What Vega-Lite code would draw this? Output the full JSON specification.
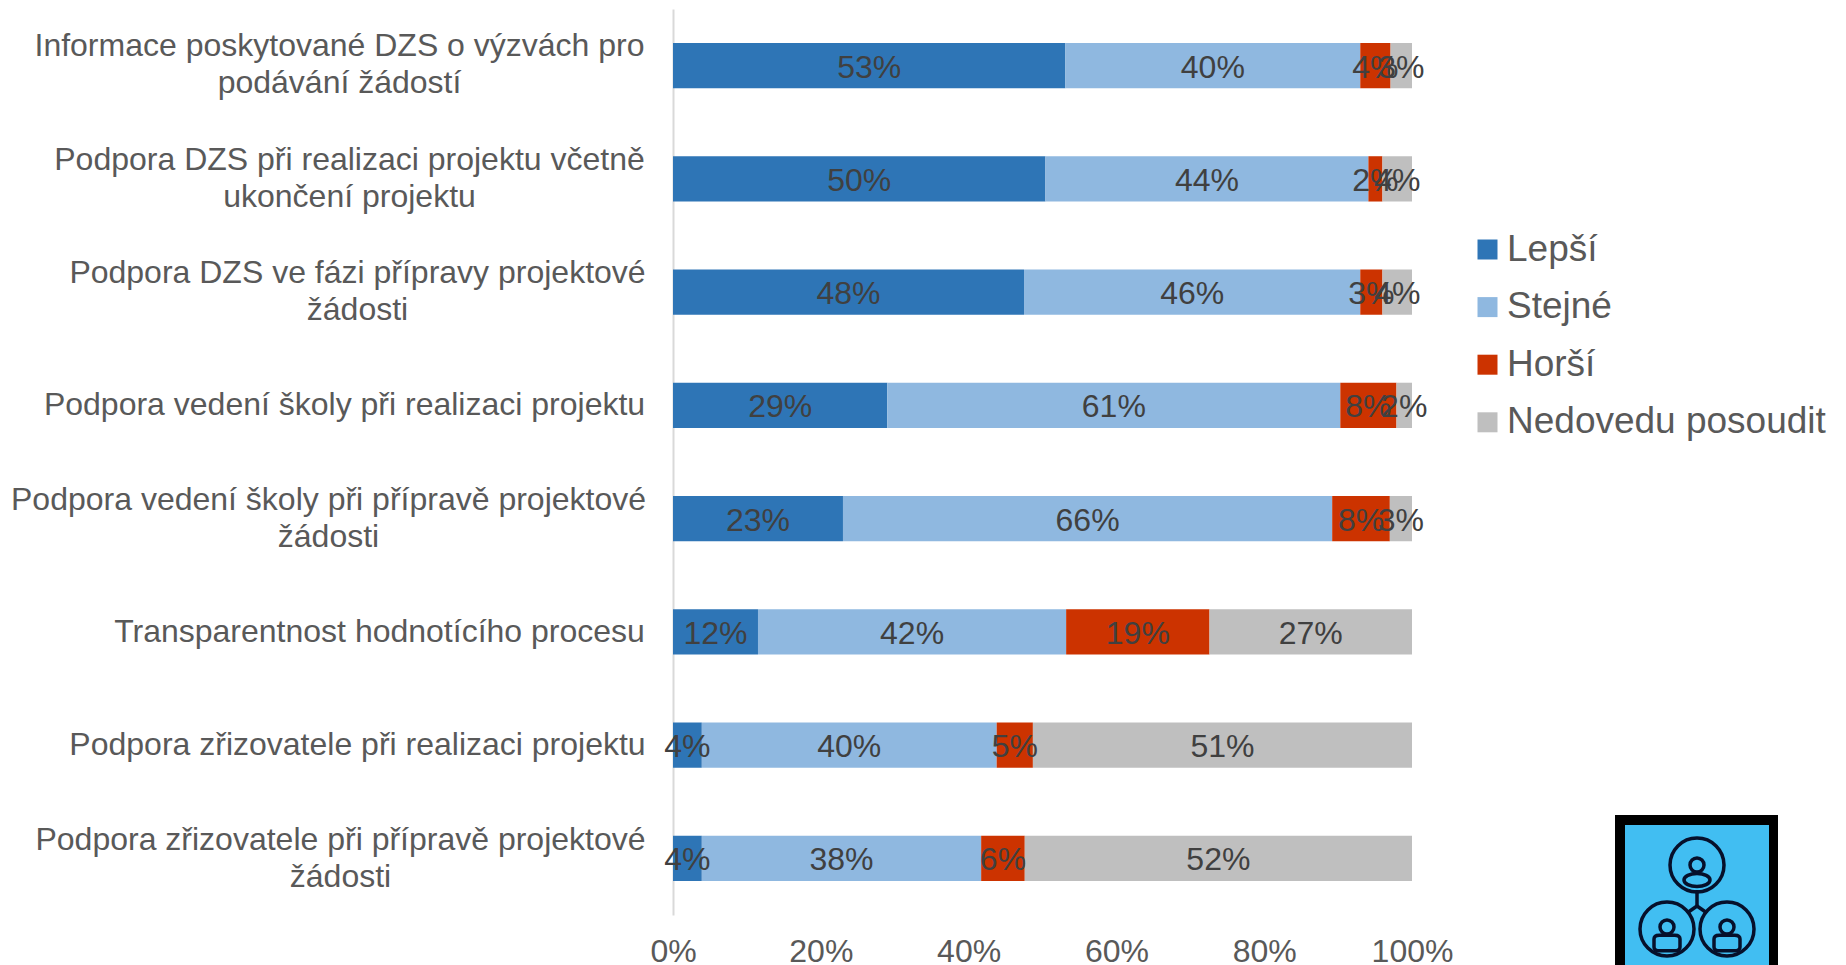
{"$schema":"https://vega.github.io/schema/vega-lite/v6.json","width":739,"height":906,"padding":{"left":673,"top":9,"right":434,"bottom":50},"autosize":{"type":"none"},"background":"white","config":{"view":{"stroke":null}},
"datasets":{"d":[
{"q":"Informace poskytované DZS o výzvách pro\npodávání žádostí","s":"Lepší","v":53.1},{"q":"Informace poskytované DZS o výzvách pro\npodávání žádostí","s":"Stejné","v":39.9},{"q":"Informace poskytované DZS o výzvách pro\npodávání žádostí","s":"Horší","v":4.1},{"q":"Informace poskytované DZS o výzvách pro\npodávání žádostí","s":"Nedovedu posoudit","v":2.9},
{"q":"Podpora DZS při realizaci projektu včetně\nukončení projektu","s":"Lepší","v":50.4},{"q":"Podpora DZS při realizaci projektu včetně\nukončení projektu","s":"Stejné","v":43.7},{"q":"Podpora DZS při realizaci projektu včetně\nukončení projektu","s":"Horší","v":1.9},{"q":"Podpora DZS při realizaci projektu včetně\nukončení projektu","s":"Nedovedu posoudit","v":4},
{"q":"Podpora DZS ve fázi přípravy projektové\nžádosti","s":"Lepší","v":47.5},{"q":"Podpora DZS ve fázi přípravy projektové\nžádosti","s":"Stejné","v":45.5},{"q":"Podpora DZS ve fázi přípravy projektové\nžádosti","s":"Horší","v":3},{"q":"Podpora DZS ve fázi přípravy projektové\nžádosti","s":"Nedovedu posoudit","v":4},
{"q":"Podpora vedení školy při realizaci projektu","s":"Lepší","v":29},{"q":"Podpora vedení školy při realizaci projektu","s":"Stejné","v":61.3},{"q":"Podpora vedení školy při realizaci projektu","s":"Horší","v":7.6},{"q":"Podpora vedení školy při realizaci projektu","s":"Nedovedu posoudit","v":2.1},
{"q":"Podpora vedení školy při přípravě projektové\nžádosti","s":"Lepší","v":23},{"q":"Podpora vedení školy při přípravě projektové\nžádosti","s":"Stejné","v":66.2},{"q":"Podpora vedení školy při přípravě projektové\nžádosti","s":"Horší","v":7.8},{"q":"Podpora vedení školy při přípravě projektové\nžádosti","s":"Nedovedu posoudit","v":3},
{"q":"Transparentnost hodnotícího procesu","s":"Lepší","v":11.5},{"q":"Transparentnost hodnotícího procesu","s":"Stejné","v":41.7},{"q":"Transparentnost hodnotícího procesu","s":"Horší","v":19.4},{"q":"Transparentnost hodnotícího procesu","s":"Nedovedu posoudit","v":27.4},
{"q":"Podpora zřizovatele při realizaci projektu","s":"Lepší","v":3.9},{"q":"Podpora zřizovatele při realizaci projektu","s":"Stejné","v":39.9},{"q":"Podpora zřizovatele při realizaci projektu","s":"Horší","v":4.9},{"q":"Podpora zřizovatele při realizaci projektu","s":"Nedovedu posoudit","v":51.3},
{"q":"Podpora zřizovatele při přípravě projektové\nžádosti","s":"Lepší","v":3.9},{"q":"Podpora zřizovatele při přípravě projektové\nžádosti","s":"Stejné","v":37.8},{"q":"Podpora zřizovatele při přípravě projektové\nžádosti","s":"Horší","v":5.9},{"q":"Podpora zřizovatele při přípravě projektové\nžádosti","s":"Nedovedu posoudit","v":52.4}
],
"frame":[{"a":1615,"b":1778,"c":815,"e":975}],
"panel":[{"a":1625,"b":1769,"c":825,"e":975}],
"rings":[{"a":1697,"c":865},{"a":1667,"c":929},{"a":1727,"c":929}],
"heads":[{"a":1697,"c":865},{"a":1667,"c":927},{"a":1727,"c":927}],
"bodyTop":[{"a":1697,"c":880}],
"bodyLow":[{"a":1667,"c":943},{"a":1727,"c":943}],
"links":[{"a":1697,"c":890,"b":1697,"e":906},{"a":1697,"c":906,"b":1687,"e":913},{"a":1697,"c":906,"b":1707,"e":913}]
},
"resolve":{"scale":{"x":"independent","y":"independent"}},
"layer":[
{"data":{"name":"d"},
"transform":[{"calculate":"indexof(['Lepší','Stejné','Horší','Nedovedu posoudit'],datum.s)","as":"o"},{"calculate":"round(datum.v)+'%'","as":"lab"}],
"encoding":{
"y":{"field":"q","type":"nominal","sort":null,"scale":{"paddingInner":0.6,"paddingOuter":0.3},"axis":{"title":null,"ticks":false,"domainColor":"#d9d9d9","domainWidth":2,"labelLimit":800,"labelFont":"Liberation Sans","labelFontSize":32,"labelColor":"#595959","labelPadding":0,"labelExpr":"split(datum.label,'\\n')","labelLineHeight":37,"encoding":{"labels":{"align":{"value":"center"},"dx":{"value":{"expr":"[-334,-324,-316,-329,-345,-294,-316,-333][round(datum.index*7)]"}},"dy":{"value":{"expr":"[-20,-19,-19,0,-19,0,0,-18][round(datum.index*7)]"}}}}}}
},
"layer":[
{"mark":{"type":"bar"},"encoding":{"x":{"field":"v","type":"quantitative","stack":"normalize","scale":{"domain":[0,1]},"axis":{"title":null,"format":".0%","values":[0,0.2,0.4,0.6,0.8,1],"grid":false,"ticks":false,"domain":false,"labelFlush":false,"labelFont":"Liberation Sans","labelFontSize":32,"labelColor":"#595959","labelPadding":21}},"color":{"field":"s","type":"nominal","scale":{"domain":["Lepší","Stejné","Horší","Nedovedu posoudit"],"range":["#2E75B6","#8FB8E0","#CC3300","#BFBFBF"]},"legend":{"title":null,"orient":"none","legendX":796,"legendY":222,"labelFont":"Liberation Sans","labelFontSize":37,"labelColor":"#595959","symbolType":"square","symbolSize":400,"symbolStrokeWidth":0,"symbolOpacity":1,"rowPadding":19.6,"labelLimit":500,"labelOffset":1}},"order":{"field":"o"}}},
{"mark":{"type":"text","font":"Liberation Sans","fontSize":32,"color":"#404040","dy":2},"encoding":{"x":{"field":"v","type":"quantitative","stack":"normalize","bandPosition":0.5},"text":{"field":"lab"},"order":{"field":"o"}}}
]},
{"encoding":{
"x":{"field":"a","type":"quantitative","scale":{"domain":[673,1412]},"axis":null},
"y":{"field":"c","type":"quantitative","scale":{"domain":[9,915],"reverse":true},"axis":null}
},
"layer":[
{"data":{"name":"frame"},"mark":{"type":"rect","color":"#000000","clip":false},"encoding":{"x2":{"field":"b"},"y2":{"field":"e"}}},
{"data":{"name":"panel"},"mark":{"type":"rect","color":"#41BEF2","clip":false},"encoding":{"x2":{"field":"b"},"y2":{"field":"e"}}},
{"data":{"name":"links"},"mark":{"type":"rule","color":"#06102B","strokeWidth":3.5,"clip":false},"encoding":{"x2":{"field":"b"},"y2":{"field":"e"}}},
{"data":{"name":"rings"},"mark":{"type":"point","shape":"circle","size":2916,"filled":false,"color":"#06102B","strokeWidth":3.5,"opacity":1},"encoding":{}},
{"data":{"name":"heads"},"mark":{"type":"point","shape":"circle","size":196,"filled":false,"color":"#06102B","strokeWidth":3.5,"opacity":1},"encoding":{}},
{"data":{"name":"bodyTop"},"mark":{"type":"point","shape":"M-1,0 A1,0.5 0 1,0 1,0 A1,0.5 0 1,0 -1,0 Z","size":676,"filled":false,"color":"#06102B","strokeWidth":3.5,"opacity":1},"encoding":{}},
{"data":{"name":"bodyLow"},"mark":{"type":"point","shape":"M-1,-0.3 Q-1,-0.6 -0.6,-0.6 L0.6,-0.6 Q1,-0.6 1,-0.3 L1,0.3 Q1,0.6 0.6,0.6 L-0.6,0.6 Q-1,0.6 -1,0.3 Z","size":676,"filled":false,"color":"#06102B","strokeWidth":3.5,"opacity":1},"encoding":{}}
]}
]}
